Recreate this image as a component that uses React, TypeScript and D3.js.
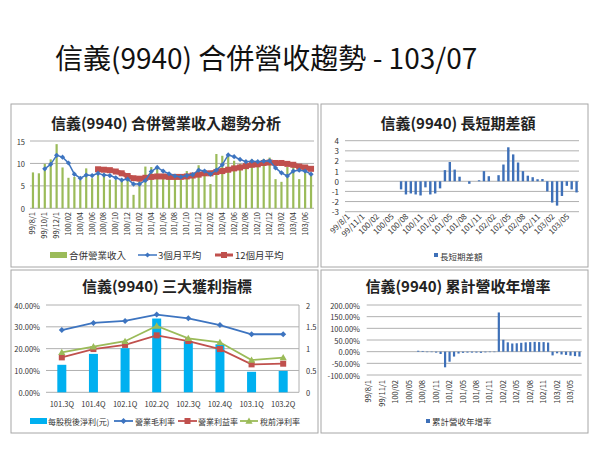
import React from 'react';
import * as d3 from 'd3';

const months = ["99/8/1","99/9/1","99/10/1","99/11/1","99/12/1","100/01","100/02","100/03","100/04","100/05","100/06","100/07","100/08","100/09","100/10","100/11","100/12","101/01","101/02","101/03","101/04","101/05","101/06","101/07","101/08","101/09","101/10","101/11","101/12","102/01","102/02","102/03","102/04","102/05","102/06","102/07","102/08","102/09","102/10","102/11","102/12","103/01","103/02","103/03","103/04","103/05","103/06","103/07"];

const revenue = [8.0,7.8,9.9,10.9,14.3,9.1,6.8,7.0,6.3,8.9,6.7,7.8,7.7,6.4,6.3,6.2,7.0,3.0,6.2,9.3,9.2,8.8,6.9,7.4,7.3,6.3,8.3,7.9,9.6,7.9,5.4,12.1,11.7,12.0,10.6,9.9,10.7,10.9,9.6,11.0,11.3,6.5,5.9,9.2,9.8,6.5,8.6,7.7];

const avg3: (number | null)[] = [null,null,8.8,9.8,11.8,11.4,10.1,7.6,6.7,7.4,7.3,7.8,7.4,7.3,6.8,6.3,6.5,5.4,5.4,6.2,8.2,9.1,8.3,7.7,7.2,7.0,7.3,7.5,8.5,8.3,7.6,8.5,9.7,11.9,11.5,10.9,10.4,10.5,10.4,10.5,10.6,9.0,7.9,7.2,8.3,8.5,8.3,7.6];

const avg12: (number | null)[] = [null,null,null,null,null,null,null,null,null,null,null,8.7,8.6,8.5,8.2,7.8,7.2,6.7,6.6,6.8,7.0,7.1,7.1,7.0,7.0,7.0,7.1,7.3,7.5,7.8,7.8,8.1,8.3,8.6,8.9,9.1,9.4,9.7,9.8,10.1,10.2,10.1,10.1,9.9,9.7,9.3,9.1,8.8];

const diff: (number | null)[] = [null,null,null,null,null,null,null,null,null,null,null,-0.8,-1.3,-1.2,-1.3,-1.4,-0.6,-1.3,-1.2,-0.7,1.1,1.9,1.15,0.45,0.0,-0.25,0.0,0.1,1.0,0.5,0.0,0.6,1.65,3.35,2.65,1.85,1.0,0.55,0.4,0.2,0.22,-1.0,-2.1,-2.4,-1.45,-0.45,-0.8,-1.1];

const yoy: (number | null)[] = [null,null,null,null,null,null,null,null,null,null,null,0.04,0.03,0.0,-0.01,-0.04,-0.10,-0.67,-0.43,-0.21,-0.08,-0.05,-0.04,-0.04,-0.04,-0.05,-0.03,-0.01,0.0,1.68,0.51,0.40,0.35,0.36,0.38,0.40,0.41,0.42,0.41,0.41,0.39,-0.16,-0.07,-0.12,-0.14,-0.17,-0.19,-0.21];

const quarters = ["101.3Q","101.4Q","102.1Q","102.2Q","102.3Q","102.4Q","103.1Q","103.2Q"];
const eps = [0.63,0.88,1.01,1.69,1.17,1.1,0.47,0.49];
const grossMargin = [0.285,0.318,0.327,0.356,0.339,0.308,0.266,0.266];
const opMargin = [0.160,0.198,0.217,0.261,0.235,0.198,0.128,0.131];
const preTaxMargin = [0.183,0.209,0.234,0.304,0.247,0.229,0.148,0.159];

const ticks1 = [0, 5, 10, 15];
const ticks2 = [-3, -2, -1, 0, 1, 2, 3, 4];
const ticks3L = [0, 0.1, 0.2, 0.3, 0.4];
const ticks3R = [0, 0.5, 1, 1.5, 2];
const ticks4 = [-1, -0.5, 0, 0.5, 1, 1.5, 2];

const FONT = "'Noto Sans CJK TC', 'Noto Sans', sans-serif";
const GRID = '#b0b0b0';
const BORDER = '#a6a6a6';
const TXT = '#333';
const GREEN = '#9BBB59';
const BLUE = '#3D74C0';
const RED = '#C0504D';
const BARBLUE = '#3E70B8';
const CYAN = '#00B0F0';

const diamond = (x: number, y: number, r: number) => `M${x},${y - r}L${x + r},${y}L${x},${y + r}L${x - r},${y}Z`;
const triangle = (x: number, y: number, r: number) => `M${x},${y - r}L${x + r},${y + r * 0.75}L${x - r},${y + r * 0.75}Z`;

function Panel1() {
  const x = d3.scaleBand<string>().domain(months).range([30, 314]);
  const y = d3.scaleLinear().domain([0, 15]).range([208.3, 141]);
  const cx = (m: string) => (x(m) as number) + x.bandwidth() / 2;
  const line = d3.line<[string, number | null]>().defined(d => d[1] != null).x(d => cx(d[0])).y(d => y(d[1] as number));
  const p3 = months.map((m, i) => [m, avg3[i]] as [string, number | null]);
  const p12 = months.map((m, i) => [m, avg12[i]] as [string, number | null]);
  return (
    <g>
      <text x={166} y={122} textAnchor="middle" dominantBaseline="central" fontSize={15} fontWeight="bold" fill="#222">信義(9940) 合併營業收入趨勢分析</text>
      {ticks1.map(t => (
        <g key={t}>
          <line x1={30} x2={314} y1={y(t)} y2={y(t)} stroke={GRID} strokeWidth={1} />
          <text x={25} y={y(t)} textAnchor="end" dominantBaseline="central" fontSize={7.5} fill={TXT}>{t}</text>
        </g>
      ))}
      {months.map((m, i) => (
        <rect key={m} x={cx(m) - 1.1} y={y(revenue[i])} width={2.2} height={y(0) - y(revenue[i])} fill={GREEN} />
      ))}
      <path d={line(p12) || ''} fill="none" stroke={RED} strokeWidth={4.5} />
      {p12.filter(d => d[1] != null).map(d => (
        <rect key={d[0]} x={cx(d[0]) - 3} y={y(d[1] as number) - 3} width={6} height={6} fill={RED} />
      ))}
      <path d={line(p3) || ''} fill="none" stroke={BLUE} strokeWidth={1.5} />
      {p3.filter(d => d[1] != null).map(d => (
        <path key={d[0]} d={diamond(cx(d[0]), y(d[1] as number), 2.6)} fill={BLUE} />
      ))}
      {months.map((m, i) => i % 2 === 0 ? (
        <text key={m} transform={`translate(${cx(m) + 2.5},212) rotate(-90)`} textAnchor="end" fontSize={7.5} fill={TXT}>{m}</text>
      ) : null)}
      <rect x={50} y={252} width={17} height={6} fill={GREEN} />
      <text x={69} y={255} dominantBaseline="central" fontSize={9.5} fill={TXT}>合併營業收入</text>
      <line x1={138} x2={157} y1={255} y2={255} stroke={BLUE} strokeWidth={1.5} />
      <path d={diamond(147.5, 255, 2.6)} fill={BLUE} />
      <text x={158} y={255} dominantBaseline="central" fontSize={9.5} fill={TXT}>3個月平均</text>
      <line x1={215} x2={233} y1={255} y2={255} stroke={RED} strokeWidth={3} />
      <rect x={221} y={252} width={6} height={6} fill={RED} />
      <text x={235} y={255} dominantBaseline="central" fontSize={9.5} fill={TXT}>12個月平均</text>
    </g>
  );
}

function Panel2() {
  const x = d3.scaleBand<string>().domain(months).range([345, 579]);
  const y = d3.scaleLinear().domain([-3, 4]).range([211.7, 140.7]);
  const cx = (m: string) => (x(m) as number) + x.bandwidth() / 2;
  return (
    <g>
      <text x={458} y={122} textAnchor="middle" dominantBaseline="central" fontSize={15} fontWeight="bold" fill="#222">信義(9940) 長短期差額</text>
      {ticks2.map(t => (
        <g key={t}>
          <line x1={345} x2={579} y1={y(t)} y2={y(t)} stroke={GRID} strokeWidth={1} />
          <text x={339} y={y(t)} textAnchor="end" dominantBaseline="central" fontSize={8} fill={TXT}>{t}</text>
        </g>
      ))}
      {months.map((m, i) => diff[i] == null ? null : (
        <rect key={m} x={cx(m) - 1.2} y={Math.min(y(0), y(diff[i] as number))} width={2.4} height={Math.abs(y(diff[i] as number) - y(0))} fill={BARBLUE} />
      ))}
      {months.map((m, i) => i % 3 === 0 ? (
        <text key={m} transform={`translate(${cx(m) + 3},217) rotate(-45)`} textAnchor="end" fontSize={8} fill={TXT}>{m}</text>
      ) : null)}
      <rect x={434} y={253} width={4} height={4} fill={BARBLUE} />
      <text x={440} y={256} dominantBaseline="central" fontSize={8.5} fill={TXT}>長短期差額</text>
    </g>
  );
}

function Panel3() {
  const x = d3.scaleBand<string>().domain(quarters).range([46, 299]);
  const yL = d3.scaleLinear().domain([0, 0.4]).range([392.3, 305]);
  const yR = d3.scaleLinear().domain([0, 2]).range([392.3, 305]);
  const cx = (q: string) => (x(q) as number) + x.bandwidth() / 2;
  const line = d3.line<number>().x((_, i) => cx(quarters[i])).y(d => yL(d));
  return (
    <g>
      <text x={167} y={285} textAnchor="middle" dominantBaseline="central" fontSize={15} fontWeight="bold" fill="#222">信義(9940) 三大獲利指標</text>
      {ticks3L.map(t => (
        <g key={t}>
          <line x1={46} x2={299} y1={yL(t)} y2={yL(t)} stroke={GRID} strokeWidth={1} />
          <text x={40} y={yL(t)} textAnchor="end" dominantBaseline="central" fontSize={7.5} fill={TXT}>{(t * 100).toFixed(2) + '%'}</text>
        </g>
      ))}
      <line x1={299} x2={299} y1={305} y2={392.3} stroke={GRID} strokeWidth={1} />
      {ticks3R.map(t => (
        <text key={t} x={306} y={yR(t)} dominantBaseline="central" fontSize={7.5} fill={TXT}>{t}</text>
      ))}
      {quarters.map((q, i) => (
        <rect key={q} x={cx(q) - 4.5} y={yR(eps[i])} width={9} height={yR(0) - yR(eps[i])} fill={CYAN} />
      ))}
      <path d={line(grossMargin) || ''} fill="none" stroke={BLUE} strokeWidth={1.8} />
      {grossMargin.map((v, i) => <path key={i} d={diamond(cx(quarters[i]), yL(v), 3)} fill={BLUE} />)}
      <path d={line(opMargin) || ''} fill="none" stroke={RED} strokeWidth={1.8} />
      {opMargin.map((v, i) => <rect key={i} x={cx(quarters[i]) - 3} y={yL(v) - 3} width={6} height={6} fill={RED} />)}
      <path d={line(preTaxMargin) || ''} fill="none" stroke={GREEN} strokeWidth={1.8} />
      {preTaxMargin.map((v, i) => <path key={i} d={triangle(cx(quarters[i]), yL(v), 3.6)} fill={GREEN} />)}
      {quarters.map(q => (
        <text key={q} x={cx(q)} y={403} textAnchor="middle" dominantBaseline="central" fontSize={7.5} fill={TXT}>{q}</text>
      ))}
      <rect x={30} y={418} width={17} height={6} fill={CYAN} />
      <text x={48} y={421} dominantBaseline="central" fontSize={8} fill={TXT}>每股稅後淨利(元)</text>
      <line x1={114} x2={133} y1={421} y2={421} stroke={BLUE} strokeWidth={1.8} />
      <path d={diamond(123.5, 421, 3)} fill={BLUE} />
      <text x={135} y={421} dominantBaseline="central" fontSize={8} fill={TXT}>營業毛利率</text>
      <line x1={178} x2={197} y1={421} y2={421} stroke={RED} strokeWidth={1.8} />
      <rect x={184.5} y={418} width={6} height={6} fill={RED} />
      <text x={198} y={421} dominantBaseline="central" fontSize={8} fill={TXT}>營業利益率</text>
      <line x1={240} x2={258} y1={421} y2={421} stroke={GREEN} strokeWidth={1.8} />
      <path d={triangle(249, 421, 3.6)} fill={GREEN} />
      <text x={260} y={421} dominantBaseline="central" fontSize={8} fill={TXT}>稅前淨利率</text>
    </g>
  );
}

function Panel4() {
  const x = d3.scaleBand<string>().domain(months).range([366.7, 581.7]);
  const y = d3.scaleLinear().domain([-1, 2]).range([375, 305]);
  const cx = (m: string) => (x(m) as number) + x.bandwidth() / 2;
  return (
    <g>
      <text x={458} y={285} textAnchor="middle" dominantBaseline="central" fontSize={15} fontWeight="bold" fill="#222">信義(9940) 累計營收年增率</text>
      {ticks4.map(t => (
        <g key={t}>
          <line x1={366.7} x2={581.7} y1={y(t)} y2={y(t)} stroke={GRID} strokeWidth={1} />
          <text x={360} y={y(t)} textAnchor="end" dominantBaseline="central" fontSize={7.5} fill={TXT}>{(t * 100).toFixed(2) + '%'}</text>
        </g>
      ))}
      {months.map((m, i) => yoy[i] == null ? null : (
        <rect key={m} x={cx(m) - 1.1} y={Math.min(y(0), y(yoy[i] as number))} width={2.2} height={Math.max(0.5, Math.abs(y(yoy[i] as number) - y(0)))} fill={BARBLUE} />
      ))}
      {months.map((m, i) => i % 3 === 0 ? (
        <text key={m} transform={`translate(${cx(m) + 2.5},380) rotate(-90)`} textAnchor="end" fontSize={7.5} fill={TXT}>{m}</text>
      ) : null)}
      <rect x={426} y={419} width={4} height={4} fill={BARBLUE} />
      <text x={432} y={421} dominantBaseline="central" fontSize={8.5} fill={TXT}>累計營收年增率</text>
    </g>
  );
}

export default function App() {
  return (
    <svg width={600} height={450} style={{ position: 'absolute', left: 0, top: 0, background: '#fff' }} fontFamily={FONT}>
      <rect x={0} y={0} width={600} height={450} fill="#fff" />
      <text x={55} y={57} dominantBaseline="central" fontSize={28} fill="#111">信義(9940) 合併營收趨勢 - 103/07</text>
      <rect x={11} y={104} width={307} height={163} fill="none" stroke={BORDER} strokeWidth={1} />
      <rect x={321} y={104} width={267} height={163} fill="none" stroke={BORDER} strokeWidth={1} />
      <rect x={11} y={270} width={307} height={163} fill="none" stroke={BORDER} strokeWidth={1} />
      <rect x={321} y={270} width={267} height={163} fill="none" stroke={BORDER} strokeWidth={1} />
      <Panel1 />
      <Panel2 />
      <Panel3 />
      <Panel4 />
    </svg>
  );
}
